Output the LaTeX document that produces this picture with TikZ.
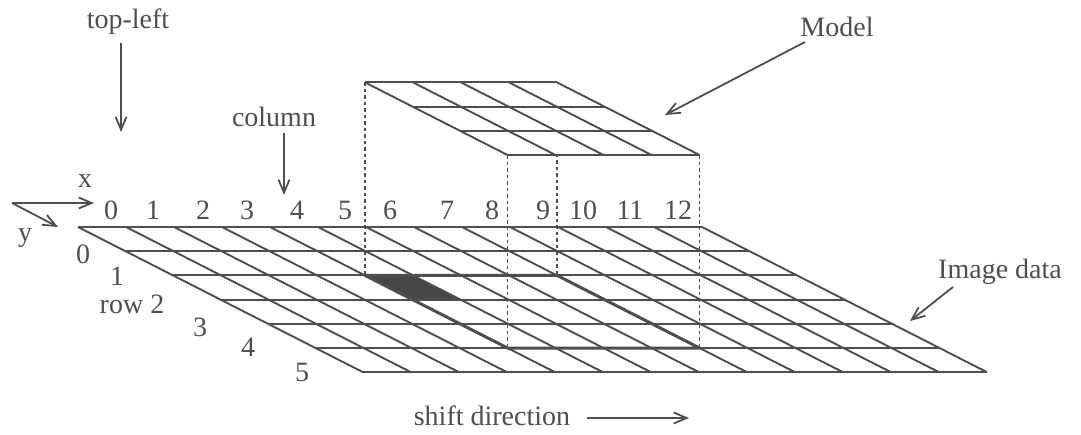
\documentclass[tikz,border=0pt]{standalone}
\usepackage{fontspec}
\setmainfont{Liberation Serif}
\usetikzlibrary{arrows.meta}
\definecolor{ink}{RGB}{78,78,78}
\definecolor{shadecell}{RGB}{70,70,70}
\begin{document}
\begin{tikzpicture}[x=1pt,y=-1pt,
  lbl/.style={font=\fontsize{28}{30}\selectfont, text=ink, inner sep=0pt},
  gridline/.style={draw=ink, line width=1.9pt},
  thickline/.style={draw=ink, line width=3pt, line join=round},
  dotline/.style={draw=ink, line width=1.7pt, dash pattern=on 3.5pt off 3pt},
  pointer/.style={draw=ink, line width=1.8pt, -{Straight Barb[length=13pt,width=11pt,line width=1.8pt]}},
  gridvec/.style={x={(48pt,0pt)}, y={(47.5pt,-24.2pt)}}]
\useasboundingbox (0,0) rectangle (1081,434);

% ---- image data grid ----
\begin{scope}[shift={(78pt,-227pt)}, gridvec]
  \fill[shadecell] (4,2) -- (5,2) -- (5,3) -- (4,3) -- cycle;
  \foreach \r in {0,...,6} \draw[gridline] (0,\r) -- (13,\r);
  \foreach \c in {0,...,13} \draw[gridline] (\c,0) -- (\c,6);
  \draw[thickline] (4,2) -- (8,2) -- (8,5) -- (4,5) -- cycle;
  \coordinate (F-tl) at (4,2);
  \coordinate (F-tr) at (8,2);
  \coordinate (F-bl) at (4,5);
  \coordinate (F-br) at (8,5);
\end{scope}

% ---- model corners ----
\begin{scope}[shift={(78pt,-34pt)}, gridvec]
  \coordinate (M-tl) at (4,2);
  \coordinate (M-tr) at (8,2);
  \coordinate (M-bl) at (4,5);
  \coordinate (M-br) at (8,5);
\end{scope}

% ---- projection lines ----
\draw[dotline] (M-tl) -- (F-tl);
\draw[dotline] (M-tr) -- (F-tr);
\draw[dotline] (M-bl) -- (F-bl);
\draw[dotline] (M-br) -- (F-br);

% ---- model grid ----
\begin{scope}[shift={(78pt,-34pt)}, gridvec]
  \fill[white] (4,2) -- (8,2) -- (8,5) -- (4,5) -- cycle;
  \foreach \r in {2,...,5} \draw[gridline] (4,\r) -- (8,\r);
  \foreach \c in {4,...,8} \draw[gridline] (\c,2) -- (\c,5);
\end{scope}

% ---- column numbers ----
\foreach \n/\xx in {0/111,1/153,2/203,3/247,4/297,5/345,6/390,7/447,8/492,9/543,10/583,11/630,12/678}
  \node[lbl] (col\n) at (\xx,210) {\n};

% ---- row numbers ----
\node[lbl] (row0) at (83,254) {0};
\node[lbl] (row1) at (117,276) {1};
\node[lbl] (row2) at (132,304) {row 2};
\node[lbl] (row3) at (200,327) {3};
\node[lbl] (row4) at (248,347) {4};
\node[lbl] (row5) at (302,372) {5};

% ---- axes ----
\coordinate (origin) at (12,203);
\coordinate (xend) at (94,203);
\coordinate (yend) at (58,227);
\draw[pointer] (origin) -- (xend);
\draw[pointer] (origin) -- (yend);
\node[lbl] (xlab) at (85,181) {x};
\node[lbl] (ylab) at (25,238) {y};

% ---- labels and pointers ----
\node[lbl] (topleft) at (128,22) {top-left};
\coordinate (tl-s) at (121,43);
\coordinate (tl-e) at (121,132);
\draw[pointer] (tl-s) -- (tl-e);

\node[lbl] (column) at (274,117) {column};
\coordinate (co-s) at (284,133);
\coordinate (co-e) at (284,195);
\draw[pointer] (co-s) -- (co-e);

\node[lbl] (model) at (837,27) {Model};
\coordinate (mo-s) at (805,42);
\coordinate (mo-e) at (665,115);
\draw[pointer] (mo-s) -- (mo-e);

\node[lbl] (imagedata) at (1000,272) {Image data};
\coordinate (id-s) at (953,287);
\coordinate (id-e) at (910,321);
\draw[pointer] (id-s) -- (id-e);

\node[lbl] (shift) at (492,416) {shift direction};
\coordinate (sh-s) at (587,418);
\coordinate (sh-e) at (689,418);
\draw[pointer] (sh-s) -- (sh-e);
\end{tikzpicture}
\end{document}
